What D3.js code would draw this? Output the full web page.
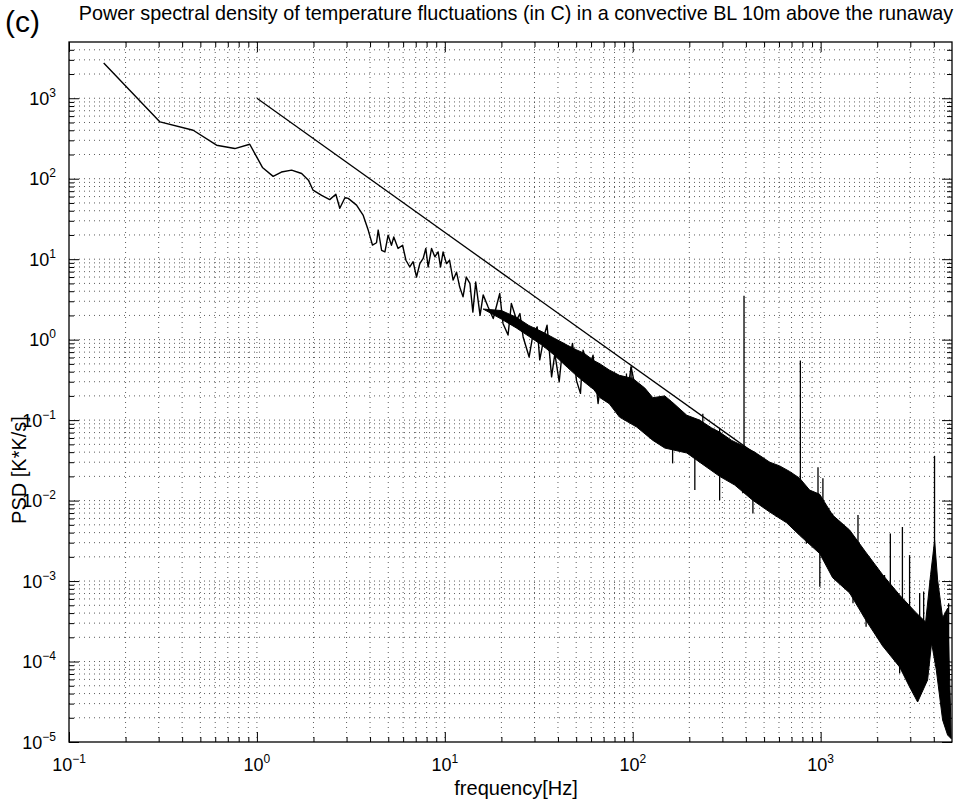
<!DOCTYPE html>
<html>
<head>
<meta charset="utf-8">
<script src="https://cdn.jsdelivr.net/npm/d3@7"></script>
<style>
  body { margin: 0; background: #fff; }
  text { font-family: "Liberation Sans", Arial, Helvetica, sans-serif; fill: #000; }
</style>
</head>
<body>
<div class="canvas"></div>
<script>
// spectrum: [frequency Hz, PSD]
const spectrumLine = [
  [0.153, 2740], [0.305, 508], [0.458, 400], [0.61, 261], [0.763, 237], [0.916, 268],
  [1.07, 138], [1.22, 107], [1.35, 121], [1.53, 128], [1.73, 116], [1.88, 96],
  [1.99, 72], [2.21, 62], [2.44, 55], [2.63, 64], [2.76, 43], [2.94, 58], [3.06, 57],
  [3.39, 47], [3.68, 35], [3.91, 23], [4.12, 15], [4.33, 16], [4.42, 23], [4.61, 12.9],
  [4.80, 12.3], [4.99, 19.9], [5.20, 14.9], [5.35, 18.9], [5.64, 13.6], [5.96, 14.9],
  [6.21, 9.7], [6.51, 8.0], [6.78, 9.3], [7.07, 6.0], [7.36, 8.8], [7.67, 10.2],
  [7.92, 13.6], [8.15, 8.0], [8.50, 13.6], [8.85, 10.7], [9.21, 12.3], [9.49, 8.0],
  [9.79, 12.3], [10.2, 8.8], [10.6, 9.7], [11.07, 5.5], [11.54, 6.9], [12.0, 4.5],
  [12.5, 3.4], [13.0, 6.0], [13.6, 5.0], [14.1, 2.2], [14.6, 5.2], [15.4, 2.0],
  [16.0, 3.6], [17.0, 2.55], [18.1, 1.83], [19.6, 3.75], [20.4, 1.59], [21.7, 1.14],
  [22.6, 2.82], [24.1, 1.75], [25.1, 2.11], [26.1, 1.08], [28.1, 0.61], [29.5, 1.19],
  [31.0, 1.44], [32.0, 0.56], [34.0, 1.19], [35.0, 1.51], [37.0, 0.345], [38.5, 0.67],
  [40.6, 0.30], [42.6, 0.90], [45.3, 0.46], [47.8, 0.90], [50.2, 0.31], [52.7, 0.215],
  [54.4, 0.74], [57.8, 0.38], [61.5, 0.64], [65.4, 0.161], [68.2, 0.345], [72.5, 0.215],
  [77.0, 0.31], [81.9, 0.146], [87.1, 0.345], [92.6, 0.177], [98, 0.46], [104.6, 0.215]
]

// dense part: upper and lower edge of the black band
const bandUpper = [
  [16, 2.4], [20, 2.3], [24, 1.9], [28, 1.5], [33, 1.25], [38, 1.05], [45, 0.85],
  [50, 0.75], [55, 0.68], [62, 0.55], [67, 0.5], [75, 0.42], [85, 0.36], [100, 0.33],
  [116, 0.25], [128, 0.19], [148, 0.20], [161, 0.17], [194, 0.115], [227, 0.10],
  [263, 0.08], [290, 0.071], [336, 0.056], [385, 0.048], [446, 0.040], [536, 0.030],
  [605, 0.027], [684, 0.023], [773, 0.019], [874, 0.0135], [988, 0.012], [1158, 0.0066],
  [1427, 0.0043], [1735, 0.0023], [2137, 0.0012], [2632, 0.00067], [3201, 0.00041],
  [3619, 0.00031], [3847, 0.0012], [4041, 0.0032], [4193, 0.00103], [4456, 0.00035],
  [4738, 0.00046], [4900, 0.00003], [4950, 0.000011]
]
const bandLower = [
  [16, 2.4], [20, 1.8], [24, 1.4], [28, 1.1], [33, 0.85], [38, 0.65], [45, 0.45],
  [50, 0.36], [55, 0.3], [62, 0.24], [67, 0.19], [75, 0.16], [85, 0.109], [105, 0.082],
  [128, 0.056], [148, 0.045], [194, 0.039], [227, 0.030], [290, 0.020], [349, 0.0156],
  [435, 0.0101], [536, 0.0072], [659, 0.0053], [773, 0.0037], [988, 0.0022],
  [1158, 0.0011], [1427, 0.00071], [1735, 0.00033], [2137, 0.000156], [2632, 0.0000855],
  [2975, 0.0000482], [3281, 0.0000314], [3708, 0.0000589], [3894, 0.00017],
  [4126, 0.0000784], [4456, 0.0000188], [4738, 0.0000122], [4950, 0.000011]
]

// spikes and dips sticking out of the band: [frequency, from, to]
const spikes = [
  [98, 0.25, 0.46], [236, 0.06, 0.12], [391, 0.03, 3.5], [780, 0.012, 0.55],
  [968, 0.006, 0.026], [1028, 0.006, 0.019], [1580, 0.002, 0.0066], [2349, 0.0008, 0.0039],
  [2723, 0.0005, 0.0047], [2973, 0.0003, 0.0021], [3533, 0.0001, 0.00074],
  [4036, 0.0005, 0.036], [4797, 0.0001, 0.00053],
  [88.8, 0.15, 0.314], [92.6, 0.15, 0.38], [104.6, 0.12, 0.286], [139, 0.08, 0.195],
  [174, 0.06, 0.121], [290, 0.04, 0.079], [328, 0.03, 0.0565], [581, 0.012, 0.0263],
  [684, 0.01, 0.0207], [1158, 0.003, 0.0069], [1714, 0.001, 0.0022], [2187, 0.0005, 0.00119],
  [3364, 0.0002, 0.00071],
  [163, 0.045, 0.029], [214, 0.04, 0.0135], [290, 0.025, 0.0101], [385, 0.02, 0.0123],
  [436, 0.012, 0.0069], [581, 0.01, 0.0063], [839, 0.005, 0.0029], [990, 0.003, 0.00085],
  [1486, 0.001, 0.00053], [1745, 0.0005, 0.00027], [2235, 0.0003, 0.000139],
  [2632, 0.00015, 0.0000713]
]

// -5/3 reference slope
const refLine = [[1, 1000], [1000, 0.01]]

const xMajor = [0.1, 1, 10, 100, 1000]
const xMajorExp = ['\u22121', '0', '1', '2', '3']
const yMajor = [1e-5, 1e-4, 1e-3, 1e-2, 1e-1, 1, 10, 100, 1000]
const yMajorExp = ['\u22125', '\u22124', '\u22123', '\u22122', '\u22121', '0', '1', '2', '3']

const title = 'Power spectral density of temperature fluctuations (in C) in a convective BL 10m above the runaway'
const xTitle = 'frequency[Hz]'
const yTitle = 'PSD [K*K/s]'

const width = 969
const height = 803
const plotL = 69, plotR = 952, plotT = 42, plotB = 742

const x = d3.scaleLog().domain([0.1, 5000]).range([plotL, plotR])
const y = d3.scaleLog().domain([1e-5, 5000]).range([plotB, plotT])

// minor positions 2..9 in every decade
const minorOf = (majors, max) => majors.flatMap(m => d3.range(2, 10).map(k => k * m)).filter(v => v < max)
const xMinor = minorOf(xMajor, 5000)
const yMinor = minorOf(yMajor, 5000)

const svg = d3.select('.canvas').append('svg')
    .attr('width', width)
    .attr('height', height)

// dotted grid
const grid = svg.append('g')
    .attr('stroke', '#333')
    .attr('stroke-width', 0.8)
    .attr('stroke-dasharray', '1,4')

grid.selectAll('.gx')
    .data(xMajor.concat(xMinor).filter(v => v > 0.1))
    .join('line')
    .attr('class', 'gx')
    .attr('x1', d => x(d))
    .attr('x2', d => x(d))
    .attr('y1', plotT)
    .attr('y2', plotB)

grid.selectAll('.gy')
    .data(yMajor.concat(yMinor).filter(v => v > 1e-5))
    .join('line')
    .attr('class', 'gy')
    .attr('x1', plotL)
    .attr('x2', plotR)
    .attr('y1', d => y(d))
    .attr('y2', d => y(d))

// ticks on all four sides, pointing inward
const addTicks = (axisFn, scale, vals, size, transform) => {
  svg.append('g')
      .attr('transform', transform)
      .call(axisFn(scale).tickValues(vals).tickSize(size).tickFormat(''))
      .call(g => g.select('.domain').remove())
      .call(g => g.selectAll('line').attr('stroke', '#000').attr('stroke-width', 1))
}
addTicks(d3.axisBottom, x, xMinor, -5, `translate(0,${plotB})`)
addTicks(d3.axisBottom, x, xMajor, -10, `translate(0,${plotB})`)
addTicks(d3.axisTop, x, xMinor, -5, `translate(0,${plotT})`)
addTicks(d3.axisTop, x, xMajor, -10, `translate(0,${plotT})`)
addTicks(d3.axisLeft, y, yMinor, -5, `translate(${plotL},0)`)
addTicks(d3.axisLeft, y, yMajor, -10, `translate(${plotL},0)`)
addTicks(d3.axisRight, y, yMinor, -5, `translate(${plotR},0)`)
addTicks(d3.axisRight, y, yMajor, -10, `translate(${plotR},0)`)

svg.append('clipPath').attr('id', 'plot')
    .append('rect')
    .attr('x', plotL)
    .attr('y', plotT)
    .attr('width', plotR - plotL)
    .attr('height', plotB - plotT)

const plot = svg.append('g').attr('clip-path', 'url(#plot)')

const line = d3.line().x(d => x(d[0])).y(d => y(d[1]))

// black band for the dense part
plot.append('path')
    .attr('d', line(bandUpper.concat(bandLower.slice().reverse())) + 'Z')
    .attr('fill', '#000')
    .attr('stroke', '#000')
    .attr('stroke-width', 1)

plot.selectAll('.spike')
    .data(spikes)
    .join('line')
    .attr('class', 'spike')
    .attr('x1', d => x(d[0]))
    .attr('x2', d => x(d[0]))
    .attr('y1', d => y(d[1]))
    .attr('y2', d => y(d[2]))
    .attr('stroke', '#000')
    .attr('stroke-width', 1.3)

plot.append('path')
    .attr('d', line(spectrumLine))
    .attr('fill', 'none')
    .attr('stroke', '#000')
    .attr('stroke-width', 1.4)
    .attr('stroke-linejoin', 'round')

plot.append('path')
    .attr('d', line(refLine))
    .attr('fill', 'none')
    .attr('stroke', '#000')
    .attr('stroke-width', 1.3)

// box
svg.append('rect')
    .attr('x', plotL)
    .attr('y', plotT)
    .attr('width', plotR - plotL)
    .attr('height', plotB - plotT)
    .attr('fill', 'none')
    .attr('stroke', '#000')
    .attr('stroke-width', 1.3)

// tick labels 10^n
const xLab = svg.append('g').selectAll('text')
    .data(xMajor)
    .join('text')
    .attr('x', d => x(d))
    .attr('y', plotB + 29)
    .attr('text-anchor', 'middle')
    .style('font-size', '18px')
xLab.append('tspan').text('10')
xLab.append('tspan').attr('dy', -8).style('font-size', '12px').text((d, i) => xMajorExp[i])

const yLab = svg.append('g').selectAll('text')
    .data(yMajor)
    .join('text')
    .attr('x', plotL - 13)
    .attr('y', d => y(d) + 6.5)
    .attr('text-anchor', 'end')
    .style('font-size', '18px')
yLab.append('tspan').text('10')
yLab.append('tspan').attr('dy', -8).style('font-size', '12px').text((d, i) => yMajorExp[i])

// titles
svg.append('text')
    .attr('x', 5)
    .attr('y', 32)
    .style('font-size', '30px')
    .text('(c)')

svg.append('text')
    .attr('x', 516)
    .attr('y', 20)
    .attr('text-anchor', 'middle')
    .style('font-size', '19.8px')
    .text(title)

svg.append('text')
    .attr('x', 516)
    .attr('y', 795)
    .attr('text-anchor', 'middle')
    .style('font-size', '20px')
    .text(xTitle)

svg.append('text')
    .attr('transform', 'translate(26,470) rotate(-90)')
    .attr('text-anchor', 'middle')
    .style('font-size', '20px')
    .text(yTitle)
</script>
</body>
</html>
